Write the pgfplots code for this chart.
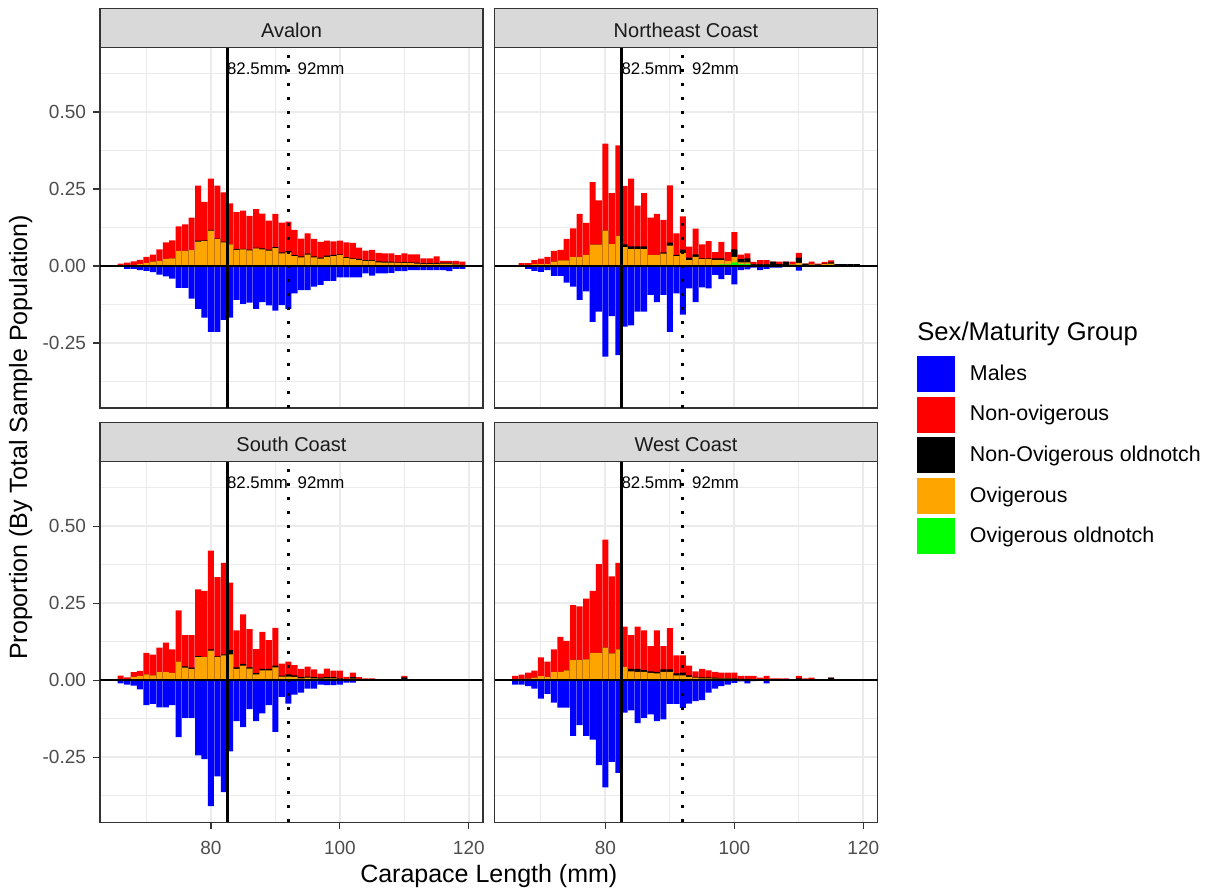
\documentclass[border=0pt]{standalone}
\usepackage{pgfplots}
\pgfplotsset{compat=1.18}
\usepackage{pgfplotstable}
\usepackage{fontspec}
\setmainfont{Liberation Sans}
\definecolor{gray92}{HTML}{EBEBEB}
\definecolor{gray85}{HTML}{D9D9D9}
\definecolor{gray20}{HTML}{333333}
\definecolor{gray30}{HTML}{4D4D4D}
\definecolor{gray10}{HTML}{1A1A1A}
\definecolor{ggorange}{HTML}{FFA500}
\definecolor{gggreen}{HTML}{00FF00}
\definecolor{ggblue}{HTML}{0000FF}
\definecolor{ggred}{HTML}{FF0000}

\pgfplotstableread{
x tot blk ora grn male
66 0.008 0.000 0.000 0 0
67 0.011 0.002 0.002 0 -0.009
68 0.015 0.003 0.003 0 -0.009
69 0.020 0.006 0.006 0 -0.013
70 0.030 0.009 0.009 0 -0.016
71 0.037 0.014 0.014 0 -0.020
72 0.054 0.017 0.017 0 -0.028
73 0.077 0.023 0.023 0 -0.034
74 0.083 0.025 0.025 0 -0.041
75 0.129 0.049 0.049 0 -0.071
76 0.135 0.049 0.049 0 -0.071
77 0.157 0.052 0.052 0 -0.106
78 0.261 0.082 0.079 0 -0.139
79 0.208 0.083 0.081 0 -0.168
80 0.284 0.117 0.115 0 -0.214
81 0.261 0.089 0.087 0 -0.214
82 0.239 0.079 0.077 0 -0.175
83 0.203 0.070 0.070 0 -0.168
84 0.175 0.055 0.052 0 -0.110
85 0.180 0.056 0.054 0 -0.123
86 0.163 0.053 0.051 0 -0.119
87 0.185 0.060 0.057 0 -0.139
88 0.170 0.057 0.054 0 -0.117
89 0.147 0.053 0.050 0.004 -0.128
90 0.169 0.061 0.058 0.004 -0.145
91 0.141 0.044 0.041 0 -0.127
92 0.144 0.048 0.044 0 -0.139
93 0.117 0.035 0.032 0.004 -0.089
94 0.089 0.031 0.028 0 -0.078
95 0.106 0.040 0.037 0 -0.078
96 0.088 0.031 0.028 0.004 -0.067
97 0.078 0.027 0.024 0.004 -0.061
98 0.082 0.034 0.030 0.004 -0.048
99 0.080 0.036 0.032 0.004 -0.048
100 0.082 0.038 0.035 0 -0.037
101 0.077 0.029 0.026 0 -0.037
102 0.075 0.025 0.022 0 -0.037
103 0.060 0.023 0.020 0 -0.037
104 0.050 0.019 0.017 0.004 -0.024
105 0.052 0.019 0.017 0 -0.031
106 0.043 0.015 0.012 0 -0.024
107 0.041 0.014 0.011 0 -0.024
108 0.041 0.014 0.011 0.003 -0.022
109 0.035 0.012 0.010 0 -0.017
110 0.041 0.013 0.010 0 -0.017
111 0.038 0.012 0.009 0 -0.013
112 0.038 0.011 0.008 0 -0.013
113 0.025 0.009 0.007 0 -0.013
114 0.025 0.009 0.007 0 -0.013
115 0.031 0.010 0.007 0 -0.013
116 0.017 0.011 0.008 0 -0.013
117 0.017 0.011 0.008 0 -0.017
118 0.017 0.007 0.005 0 -0.009
119 0.014 0.004 0.004 0 -0.009
}\avalon

\pgfplotstableread{
x tot blk ora grn male
67 0.009 0.002 0.002 0 0
68 0.009 0.002 0.002 0 -0.009
69 0.019 0.006 0.006 0 -0.016
70 0.024 0.006 0.006 0 -0.019
71 0.030 0.006 0.006 0 -0.013
72 0.049 0.014 0.014 0 -0.032
73 0.052 0.018 0.018 0 -0.032
74 0.088 0.018 0.018 0 -0.054
75 0.122 0.030 0.030 0 -0.067
76 0.169 0.030 0.030 0 -0.110
77 0.140 0.036 0.036 0 -0.082
78 0.272 0.069 0.069 0 -0.181
79 0.213 0.069 0.069 0 -0.148
80 0.397 0.115 0.115 0 -0.294
81 0.237 0.071 0.071 0 -0.163
82 0.392 0.098 0.098 0 -0.289
83 0.260 0.070 0.061 0 -0.197
84 0.284 0.064 0.055 0 -0.193
85 0.196 0.064 0.055 0 -0.148
86 0.237 0.064 0.055 0 -0.148
87 0.157 0.036 0.036 0 -0.094
88 0.169 0.036 0.036 0 -0.117
89 0.150 0.044 0.040 0 -0.094
90 0.262 0.076 0.066 0.004 -0.214
91 0.106 0.036 0.032 0 -0.089
92 0.161 0.053 0.043 0.003 -0.158
93 0.063 0.027 0.019 0 -0.073
94 0.121 0.038 0.030 0.004 -0.117
95 0.070 0.025 0.022 0 -0.069
96 0.081 0.025 0.022 0 -0.073
97 0.045 0.025 0.020 0 -0.029
98 0.078 0.025 0.020 0.005 -0.043
99 0.045 0.017 0.017 0.005 -0.029
100 0.110 0.054 0.030 0.012 -0.060
101 0.037 0.022 0.012 0.007 -0.013
102 0.041 0.025 0.012 0.007 -0.011
103 0.013 0.006 0.004 0 -0.005
104 0.019 0.006 0.004 0 -0.013
105 0.019 0.006 0.004 0 -0.009
106 0.014 0.014 0.003 0 -0.005
107 0.014 0.006 0.003 0 -0.005
108 0.014 0.014 0.003 0 0
109 0.014 0.005 0.005 0.004 0
110 0.043 0.027 0.010 0.004 -0.015
111 0.008 0.008 0.002 0 0
112 0.014 0.005 0.005 0 0
113 0.008 0.005 0.004 0.002 0
114 0.013 0.008 0.006 0.003 0
115 0.018 0.012 0.008 0.004 0
116 0.006 0.006 0 0 0
117 0.006 0.006 0 0 0
118 0.006 0.006 0 0 0
119 0.006 0.006 0 0 0
}\necoast

\pgfplotstableread{
x tot blk ora grn male
66 0.015 0.003 0.003 0 -0.010
67 0.009 0.003 0.003 0 -0.014
68 0.026 0.011 0.011 0 -0.018
69 0.030 0.014 0.014 0 -0.030
70 0.089 0.019 0.019 0 -0.081
71 0.083 0.016 0.016 0 -0.077
72 0.106 0.027 0.027 0 -0.088
73 0.122 0.027 0.027 0 -0.088
74 0.100 0.024 0.024 0 -0.081
75 0.227 0.060 0.060 0 -0.185
76 0.146 0.045 0.041 0 -0.122
77 0.146 0.041 0.037 0 -0.122
78 0.295 0.078 0.075 0 -0.244
79 0.290 0.076 0.075 0 -0.256
80 0.421 0.100 0.096 0 -0.409
81 0.335 0.077 0.075 0 -0.312
82 0.381 0.084 0.081 0 -0.363
83 0.317 0.098 0.084 0 -0.231
84 0.162 0.042 0.037 0 -0.133
85 0.214 0.053 0.047 0 -0.152
86 0.166 0.042 0.038 0 -0.094
87 0.101 0.023 0.019 0 -0.133
88 0.157 0.037 0.032 0 -0.108
89 0.130 0.037 0.032 0 -0.081
90 0.170 0.047 0.042 0 -0.168
91 0.054 0.015 0.012 0 -0.054
92 0.060 0.019 0.012 0.004 -0.076
93 0.049 0.016 0.011 0 -0.047
94 0.037 0.010 0.006 0 -0.040
95 0.044 0.012 0.008 0 -0.027
96 0.035 0.010 0.006 0 -0.027
97 0.021 0.008 0.005 0 -0.014
98 0.038 0.010 0.006 0 -0.016
99 0.031 0.010 0.006 0 -0.016
100 0.031 0.006 0.004 0 -0.014
101 0.011 0.004 0.004 0 -0.008
102 0.025 0.010 0.005 0 -0.008
103 0.010 0.004 0.004 0 0
104 0.006 0.003 0.003 0 0
105 0.006 0.003 0.003 0 0
110 0.014 0.009 0.003 0 0
}\south

\pgfplotstableread{
x tot blk ora grn male
66 0.014 0.003 0.003 0 -0.014
67 0.018 0.004 0.004 0 -0.014
68 0.025 0.005 0.005 0 -0.019
69 0.031 0.008 0.008 0 -0.027
70 0.074 0.013 0.013 0 -0.060
71 0.060 0.011 0.011 0 -0.044
72 0.100 0.027 0.027 0 -0.073
73 0.141 0.027 0.027 0 -0.089
74 0.128 0.032 0.032 0 -0.089
75 0.244 0.066 0.066 0 -0.181
76 0.240 0.066 0.066 0 -0.146
77 0.265 0.068 0.068 0 -0.181
78 0.290 0.089 0.089 0 -0.193
79 0.377 0.089 0.089 0 -0.276
80 0.456 0.106 0.106 0 -0.348
81 0.337 0.087 0.087 0 -0.265
82 0.381 0.100 0.100 0 -0.301
83 0.174 0.043 0.043 0 -0.105
84 0.146 0.037 0.029 0 -0.098
85 0.174 0.037 0.027 0 -0.139
86 0.162 0.033 0.027 0 -0.122
87 0.111 0.029 0.024 0 -0.111
88 0.162 0.027 0.022 0 -0.133
89 0.111 0.035 0.027 0 -0.127
90 0.169 0.035 0.027 0 -0.077
91 0.081 0.022 0.016 0 -0.077
92 0.081 0.025 0.016 0 -0.090
93 0.047 0.016 0.011 0 -0.076
94 0.029 0.011 0.008 0 -0.068
95 0.037 0.009 0.006 0 -0.065
96 0.032 0.009 0.006 0 -0.040
97 0.027 0.008 0.005 0 -0.027
98 0.025 0.007 0.005 0 -0.019
99 0.025 0.007 0.005 0 -0.014
100 0.025 0.006 0.004 0 -0.009
101 0.014 0.004 0.003 0 -0.004
102 0.014 0.004 0.003 0 -0.010
103 0.014 0.003 0.003 0 -0.003
104 0.008 0.003 0.003 0 0
105 0.014 0.003 0.003 0 -0.010
106 0.006 0.002 0.002 0 0
107 0.006 0.002 0.002 0 0
108 0.006 0.002 0.002 0 0
110 0.014 0.006 0.003 0 0
111 0.006 0.002 0.002 0 0
112 0.008 0.002 0.002 0 0
115 0.008 0.008 0 0 0
}\west

\pgfplotsset{
  panel/.style={
    width=191.5pt, height=180.35pt, scale only axis,
    xmin=62.8, xmax=122.2, ymin=-0.461, ymax=0.710,
    xtick={80,100,120}, xticklabels={80,100,120},
    minor xtick={70,90,110},
    ytick={-0.25,0,0.25,0.5}, yticklabels={-0.25,0.00,0.25,0.50},
    minor ytick={-0.375,-0.125,0.125,0.375,0.625},
    grid=both,
    major grid style={draw=gray92, line width=1pt},
    minor grid style={draw=gray92, line width=0.55pt},
    axis line style={draw=gray20, line width=0.6pt},
    tick align=outside, major tick length=3.5pt, minor tick length=0pt,
    tick style={draw=gray20, line width=0.6pt},
    xtick pos=bottom, ytick pos=left,
    tick label style={font=\fontsize{9.5}{11}\selectfont, text=gray30},
    xticklabel style={yshift=-2.5pt},
    clip=true,
  },
  bars/.style={ybar, bar width=0.93, bar shift=0pt, draw=none},
}

\newcommand{\panelplots}[1]{%
  \addplot[bars, fill=ggblue, legend image code/.code={\fill[ggblue] (0pt,-9pt) rectangle (19pt,9pt);}] table[x=x,y=male] {#1};
  \addplot[bars, fill=ggred, legend image code/.code={\fill[ggred] (0pt,-9pt) rectangle (19pt,9pt);}] table[x=x,y=tot] {#1};
  \addplot[bars, fill=black, legend image code/.code={\fill[black] (0pt,-9pt) rectangle (19pt,9pt);}] table[x=x,y=blk] {#1};
  \addplot[bars, fill=ggorange, legend image code/.code={\fill[ggorange] (0pt,-9pt) rectangle (19pt,9pt);}] table[x=x,y=ora] {#1};
  \addplot[bars, fill=gggreen, legend image code/.code={\fill[gggreen] (0pt,-9pt) rectangle (19pt,9pt);}] table[x=x,y=grn] {#1};
  \addplot[black, line width=1.5pt, mark=none, forget plot] coordinates {(82.5,-0.461) (82.5,0.710)};
  \addplot[black, line width=1.5pt, mark=none, dash pattern=on 1.5pt off 5.5pt, forget plot] coordinates {(92,-0.461) (92,0.710)};
  \addplot[black, line width=0.8pt, mark=none, forget plot] coordinates {(62.8,0) (122.2,0)};
  \node[anchor=west, inner sep=0pt, font=\fontsize{8.4}{10}\selectfont] at (axis cs:82.45,0.64) {82.5mm};
  \node[anchor=west, inner sep=0pt, font=\fontsize{8.4}{10}\selectfont] at (axis cs:93.4,0.64) {92mm};
}

\newcommand{\strip}[2]{%
  \draw[fill=gray85, draw=gray20, line width=0.6pt] (#1.north west) rectangle ([yshift=19.5pt]#1.north east);
  \node[font=\fontsize{10}{12}\selectfont, text=gray10] at ([yshift=8.6pt]#1.north) {#2};
}

\begin{document}
\begin{tikzpicture}
\path[use as bounding box] (0,0) rectangle (605.5pt,-445.5pt);

\begin{axis}[panel, name=ax1, at={(50pt,-23.65pt)}, anchor=north west,
  xticklabels={}, xtick style={draw=none}]
\panelplots{\avalon}
\end{axis}

\begin{axis}[panel, name=ax2, at={(247.25pt,-23.65pt)}, anchor=north west,
  xticklabels={}, xtick style={draw=none}, yticklabels={}, ytick style={draw=none},
  legend style={at={(axis description cs:1.1031,0.1442)}, anchor=north west,
    draw=none, fill=none, inner sep=0pt, outer sep=0pt, row sep=2.3pt, column sep=7.5pt,
    nodes={inner sep=0pt, anchor=west, font=\fontsize{10.7}{12}\selectfont, text=black}},
  legend cell align=left]
\panelplots{\necoast}
\addlegendentry{Males}
\addlegendentry{Non-ovigerous}
\addlegendentry{Non-Ovigerous oldnotch}
\addlegendentry{Ovigerous}
\addlegendentry{Ovigerous oldnotch}
\end{axis}

\begin{axis}[panel, name=ax3, at={(50pt,-230.75pt)}, anchor=north west]
\panelplots{\south}
\end{axis}

\begin{axis}[panel, name=ax4, at={(247.25pt,-230.75pt)}, anchor=north west,
  yticklabels={}, ytick style={draw=none}]
\panelplots{\west}
\end{axis}

\strip{ax1}{Avalon}
\strip{ax2}{Northeast Coast}
\strip{ax3}{South Coast}
\strip{ax4}{West Coast}

\node[anchor=base west, inner sep=0pt, font=\fontsize{12.8}{15}\selectfont] at (458.5pt,-170pt) {Sex/Maturity Group};
\node[anchor=base, inner sep=0pt, font=\fontsize{12.5}{15}\selectfont] at (244.4pt,-441pt) {Carapace Length (mm)};
\node[anchor=base, inner sep=0pt, rotate=90, font=\fontsize{12.5}{15}\selectfont] at (13.5pt,-218.75pt) {Proportion (By Total Sample Population)};
\end{tikzpicture}
\end{document}
